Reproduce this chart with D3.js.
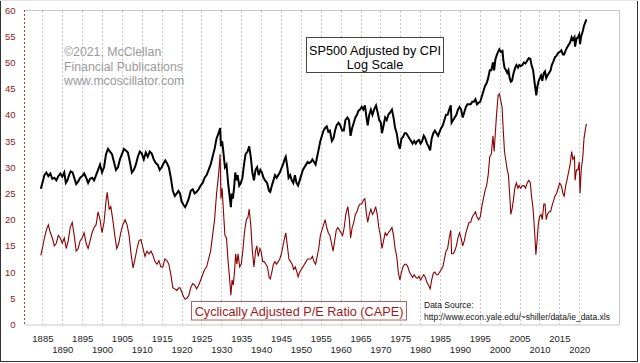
<!DOCTYPE html>
<html>
<head>
<meta charset="utf-8">
<script src="https://cdn.jsdelivr.net/npm/d3@7"></script>
<style>
  body { margin: 0; background: #fff; }
  svg { display: block; font-family: "Liberation Sans", Arial, sans-serif; }
  .grid line { stroke: #c8c8c8; stroke-dasharray: 2,2; }
  .y.axis text { fill: #8b1a1a; font-size: 9.5px; }
  .x.axis text { fill: #222; font-size: 9.5px; }
</style>
</head>
<body>
<svg id="chart" width="640" height="363"></svg>
<script>

// tick labels
var yTicks = [0, 5, 10, 15, 20, 25, 30, 35, 40, 45, 50, 55, 60];
var xTicks = [1885, 1890, 1895, 1900, 1905, 1910, 1915, 1920, 1925, 1930, 1935, 1940, 1945, 1950,
              1955, 1960, 1965, 1970, 1975, 1980, 1985, 1990, 1995, 2000, 2005, 2010, 2015, 2020];

// Shiller CAPE (left axis units)
var cape = [
  [1884.6, 13.2], [1885.0, 14.5], [1885.5, 16.5], [1886.0, 18.0], [1886.5, 19.0], [1887.0, 17.5],
  [1887.5, 16.5], [1888.0, 15.0], [1888.5, 15.5], [1889.0, 17.0], [1889.5, 16.5], [1890.0, 15.5],
  [1890.5, 16.5], [1891.0, 14.5], [1891.5, 16.0], [1892.0, 18.5], [1892.5, 19.5], [1893.0, 17.0],
  [1893.5, 14.0], [1894.0, 14.5], [1894.5, 16.0], [1895.0, 16.5], [1895.5, 17.5], [1896.0, 15.5],
  [1896.5, 14.5], [1897.0, 16.0], [1897.5, 17.5], [1898.0, 18.5], [1898.5, 19.0], [1899.0, 21.5],
  [1899.5, 20.0], [1900.0, 17.5], [1900.5, 19.5], [1901.0, 23.5], [1901.3, 25.2], [1901.8, 22.0],
  [1902.2, 22.5], [1902.7, 20.0], [1903.2, 17.0], [1903.7, 14.5], [1904.2, 15.5], [1904.7, 17.5],
  [1905.2, 19.0], [1905.8, 20.0], [1906.3, 19.0], [1906.8, 17.0], [1907.3, 13.5], [1907.8, 10.8],
  [1908.3, 12.5], [1908.8, 14.5], [1909.3, 16.0], [1909.8, 16.2], [1910.3, 14.5], [1910.8, 13.0],
  [1911.3, 14.0], [1911.8, 13.5], [1912.3, 14.0], [1912.8, 13.2], [1913.3, 12.0], [1913.8, 11.5],
  [1914.3, 12.2], [1914.8, 11.0], [1915.3, 11.0], [1915.8, 12.5], [1916.3, 12.2], [1916.8, 11.5],
  [1917.3, 9.5], [1917.8, 7.0], [1918.3, 6.8], [1918.8, 6.5], [1919.3, 7.0], [1919.6, 7.0],
  [1920.0, 6.3], [1920.5, 5.3], [1920.9, 4.8], [1921.3, 5.0], [1921.8, 5.5], [1922.3, 7.0],
  [1922.8, 7.8], [1923.3, 7.5], [1923.8, 6.8], [1924.3, 7.5], [1924.8, 8.5], [1925.3, 9.5],
  [1925.8, 10.5], [1926.3, 11.0], [1926.8, 12.5], [1927.3, 14.0], [1927.8, 17.0], [1928.3, 20.0],
  [1928.8, 25.0], [1929.3, 28.5], [1929.7, 32.5], [1929.9, 24.0], [1930.2, 26.0], [1930.5, 22.0],
  [1930.9, 17.0], [1931.3, 16.5], [1931.7, 12.0], [1932.0, 9.5], [1932.4, 5.6], [1932.7, 8.5],
  [1933.0, 7.5], [1933.3, 10.0], [1933.6, 13.5], [1933.9, 11.5], [1934.2, 13.5], [1934.6, 11.0],
  [1935.0, 11.5], [1935.4, 14.0], [1935.8, 17.5], [1936.3, 20.0], [1936.7, 20.5], [1937.0, 22.0],
  [1937.4, 19.0], [1937.8, 14.0], [1938.2, 11.0], [1938.6, 14.0], [1938.9, 15.0], [1939.3, 13.0],
  [1939.7, 14.5], [1940.0, 14.0], [1940.4, 12.0], [1940.8, 12.0], [1941.2, 11.5], [1941.6, 11.0],
  [1942.0, 9.0], [1942.3, 8.7], [1942.7, 10.0], [1943.1, 11.5], [1943.5, 12.0], [1943.9, 11.5],
  [1944.3, 12.0], [1944.7, 12.5], [1945.1, 13.5], [1945.5, 15.0], [1945.9, 16.5], [1946.2, 17.5],
  [1946.6, 15.0], [1947.0, 12.5], [1947.4, 12.0], [1947.8, 11.5], [1948.2, 10.5], [1948.6, 11.0],
  [1949.0, 10.0], [1949.3, 9.1], [1949.7, 10.0], [1950.1, 10.5], [1950.5, 11.0], [1950.9, 11.5],
  [1951.3, 12.0], [1951.7, 12.5], [1952.1, 12.5], [1952.5, 12.5], [1952.9, 13.0], [1953.3, 12.0],
  [1953.7, 11.5], [1954.1, 13.0], [1954.5, 14.5], [1954.9, 17.0], [1955.3, 18.0], [1955.7, 19.0],
  [1956.1, 20.0], [1956.5, 18.5], [1956.9, 17.5], [1957.3, 17.0], [1957.7, 15.5], [1958.1, 14.0],
  [1958.5, 16.0], [1958.9, 18.0], [1959.3, 18.5], [1959.7, 18.0], [1960.1, 17.5], [1960.5, 17.0],
  [1960.9, 18.5], [1961.3, 21.0], [1961.8, 22.5], [1962.2, 20.0], [1962.5, 16.5], [1962.9, 18.5],
  [1963.3, 19.5], [1963.7, 21.0], [1964.1, 21.5], [1964.5, 22.5], [1964.9, 23.0], [1965.3, 23.0],
  [1965.7, 23.7], [1966.1, 24.0], [1966.5, 21.0], [1966.8, 19.5], [1967.2, 21.0], [1967.6, 22.0],
  [1968.0, 21.0], [1968.4, 21.5], [1968.8, 22.5], [1969.2, 21.0], [1969.6, 18.5], [1970.0, 17.0],
  [1970.4, 14.5], [1970.8, 16.0], [1971.2, 17.5], [1971.6, 17.0], [1972.0, 17.5], [1972.5, 18.0],
  [1972.9, 18.5], [1973.3, 17.0], [1973.7, 14.5], [1974.1, 13.0], [1974.5, 10.0], [1974.9, 8.5],
  [1975.3, 10.0], [1975.7, 11.0], [1976.1, 11.5], [1976.5, 11.5], [1976.9, 11.0], [1977.3, 10.0],
  [1977.7, 9.5], [1978.1, 9.0], [1978.5, 9.5], [1978.9, 9.0], [1979.3, 8.8], [1979.7, 9.2],
  [1980.1, 8.5], [1980.5, 9.0], [1980.9, 9.5], [1981.3, 9.0], [1981.7, 8.0], [1982.1, 7.5],
  [1982.5, 6.8], [1982.9, 8.5], [1983.3, 9.8], [1983.7, 10.0], [1984.1, 9.5], [1984.5, 9.5],
  [1984.9, 10.0], [1985.3, 10.5], [1985.7, 11.0], [1986.1, 12.5], [1986.5, 14.0], [1986.9, 14.5],
  [1987.3, 16.5], [1987.7, 18.0], [1987.9, 13.5], [1988.3, 13.5], [1988.7, 14.0], [1989.1, 15.0],
  [1989.5, 16.5], [1989.9, 17.5], [1990.3, 16.5], [1990.7, 15.0], [1991.1, 16.0], [1991.5, 17.5],
  [1991.9, 18.5], [1992.3, 19.5], [1992.7, 19.5], [1993.1, 20.5], [1993.5, 21.0], [1993.9, 21.5],
  [1994.3, 20.5], [1994.7, 20.0], [1995.1, 20.5], [1995.5, 22.5], [1995.9, 24.0], [1996.3, 25.5],
  [1996.7, 26.5], [1997.1, 28.5], [1997.5, 32.0], [1997.9, 32.5], [1998.3, 36.0], [1998.6, 33.0],
  [1998.9, 36.5], [1999.2, 40.0], [1999.6, 43.7], [1999.9, 44.0], [2000.2, 43.0], [2000.6, 41.5],
  [2000.9, 37.0], [2001.2, 33.0], [2001.6, 31.0], [2001.9, 29.5], [2002.2, 28.5], [2002.5, 25.0],
  [2002.8, 21.0], [2003.1, 22.0], [2003.4, 23.5], [2003.8, 26.0], [2004.2, 27.0], [2004.6, 26.0],
  [2004.9, 26.5], [2005.3, 26.0], [2005.7, 26.5], [2006.1, 26.5], [2006.5, 26.0], [2006.9, 27.0],
  [2007.3, 27.5], [2007.7, 27.0], [2008.0, 24.5], [2008.4, 22.0], [2008.8, 17.5], [2009.1, 13.3],
  [2009.4, 16.0], [2009.7, 19.0], [2010.0, 20.5], [2010.4, 21.0], [2010.7, 20.0], [2011.1, 23.0],
  [2011.4, 23.0], [2011.7, 20.0], [2012.0, 21.0], [2012.4, 21.5], [2012.8, 21.5], [2013.1, 22.5],
  [2013.5, 23.5], [2013.9, 24.5], [2014.3, 25.0], [2014.7, 26.0], [2015.1, 27.0], [2015.5, 26.5],
  [2015.9, 25.0], [2016.2, 24.5], [2016.6, 26.5], [2016.9, 27.5], [2017.3, 29.0], [2017.7, 30.5],
  [2018.1, 33.0], [2018.4, 31.5], [2018.8, 32.0], [2018.95, 27.5], [2019.3, 29.5], [2019.7, 29.5],
  [2020.0, 31.0], [2020.2, 25.0], [2020.5, 29.5], [2020.9, 32.0], [2021.2, 35.5], [2021.6, 37.5],
  [2021.8, 38.3]
];

// SP500 / CPI, log scale, plotted in left-axis units as it appears
var sp500 = [
  [1884.6, 25.9], [1885.0, 27.0], [1885.5, 28.5], [1886.0, 29.0], [1886.5, 28.3], [1887.0, 28.8],
  [1887.5, 27.8], [1888.0, 28.0], [1888.5, 27.5], [1889.0, 28.3], [1889.5, 28.8], [1890.0, 28.2],
  [1890.5, 29.0], [1890.9, 27.0], [1891.3, 27.5], [1891.7, 28.5], [1892.1, 29.2], [1892.6, 29.0],
  [1893.0, 28.0], [1893.5, 26.8], [1894.0, 27.3], [1894.5, 28.0], [1895.0, 28.3], [1895.5, 28.8],
  [1896.0, 28.0], [1896.5, 27.0], [1897.0, 27.8], [1897.5, 28.0], [1898.0, 27.5], [1898.5, 28.5],
  [1899.0, 29.5], [1899.5, 30.5], [1900.0, 29.0], [1900.5, 30.0], [1901.0, 32.5], [1901.5, 33.5],
  [1902.0, 33.0], [1902.5, 32.5], [1903.0, 31.0], [1903.5, 29.5], [1904.0, 30.0], [1904.5, 31.5],
  [1905.0, 32.5], [1905.5, 33.5], [1906.0, 33.2], [1906.5, 32.8], [1907.0, 31.0], [1907.5, 29.0],
  [1908.0, 29.5], [1908.5, 30.5], [1909.0, 32.0], [1909.5, 33.0], [1910.0, 32.6], [1910.5, 31.5],
  [1911.0, 32.8], [1911.5, 32.0], [1912.0, 33.0], [1912.5, 32.6], [1913.0, 31.5], [1913.5, 30.8],
  [1914.0, 30.5], [1914.5, 29.5], [1915.0, 30.0], [1915.5, 30.8], [1915.9, 31.3], [1916.3, 30.8],
  [1916.8, 30.0], [1917.3, 28.0], [1917.8, 25.5], [1918.3, 24.5], [1918.8, 25.0], [1919.2, 25.5],
  [1919.6, 25.0], [1920.0, 23.5], [1920.5, 22.8], [1920.9, 22.4], [1921.3, 23.0], [1921.8, 24.0],
  [1922.3, 25.5], [1922.8, 25.8], [1923.3, 25.0], [1923.8, 25.3], [1924.3, 25.8], [1924.8, 26.5],
  [1925.3, 27.0], [1925.8, 28.0], [1926.3, 28.5], [1926.8, 29.5], [1927.3, 30.5], [1927.8, 32.0],
  [1928.3, 33.5], [1928.8, 35.5], [1929.3, 36.5], [1929.7, 37.5], [1929.9, 34.0], [1930.2, 35.0],
  [1930.5, 33.0], [1930.9, 30.0], [1931.3, 30.5], [1931.7, 27.0], [1932.0, 25.0], [1932.4, 22.4],
  [1932.6, 25.0], [1932.9, 24.0], [1933.2, 26.0], [1933.5, 29.0], [1933.8, 27.5], [1934.1, 28.5],
  [1934.5, 26.5], [1934.9, 27.0], [1935.3, 28.0], [1935.7, 30.5], [1936.1, 32.5], [1936.6, 33.0],
  [1937.0, 34.0], [1937.4, 32.0], [1937.8, 29.0], [1938.2, 27.5], [1938.6, 29.5], [1939.0, 30.0],
  [1939.4, 28.5], [1939.8, 29.5], [1940.2, 29.0], [1940.6, 28.0], [1941.0, 27.5], [1941.5, 27.0],
  [1942.0, 25.5], [1942.3, 25.3], [1942.7, 26.5], [1943.1, 27.5], [1943.5, 28.5], [1943.9, 28.0],
  [1944.3, 28.5], [1944.7, 29.0], [1945.1, 29.8], [1945.5, 30.5], [1945.9, 31.5], [1946.2, 32.0],
  [1946.6, 30.0], [1946.9, 28.0], [1947.3, 28.5], [1947.7, 27.5], [1948.1, 27.0], [1948.5, 28.5],
  [1948.9, 27.0], [1949.3, 26.5], [1949.7, 27.5], [1950.1, 28.5], [1950.5, 29.5], [1950.9, 30.0],
  [1951.3, 30.5], [1951.7, 31.0], [1952.1, 30.8], [1952.5, 31.0], [1952.9, 31.5], [1953.3, 31.0],
  [1953.7, 30.5], [1954.1, 32.0], [1954.5, 33.5], [1954.9, 35.0], [1955.3, 36.0], [1955.7, 37.0],
  [1956.1, 37.5], [1956.5, 37.8], [1956.9, 36.8], [1957.3, 37.0], [1957.8, 35.0], [1958.2, 35.5],
  [1958.6, 37.0], [1959.0, 38.0], [1959.5, 38.5], [1959.9, 38.0], [1960.4, 37.0], [1960.8, 37.0],
  [1961.2, 39.0], [1961.7, 39.5], [1962.1, 39.0], [1962.5, 36.0], [1962.9, 37.5], [1963.3, 38.5],
  [1963.7, 39.5], [1964.1, 40.0], [1964.5, 40.8], [1964.9, 41.0], [1965.3, 41.5], [1965.7, 41.0],
  [1966.1, 41.8], [1966.5, 39.5], [1966.8, 38.0], [1967.2, 40.0], [1967.6, 41.0], [1968.0, 40.0],
  [1968.4, 41.0], [1968.9, 41.8], [1969.3, 40.5], [1969.7, 39.0], [1970.1, 38.5], [1970.4, 36.5],
  [1970.8, 38.0], [1971.2, 39.5], [1971.6, 39.0], [1972.0, 40.0], [1972.5, 40.5], [1972.9, 41.0],
  [1973.3, 39.5], [1973.7, 37.5], [1974.1, 36.5], [1974.5, 34.5], [1974.9, 33.5], [1975.3, 35.5],
  [1975.7, 35.8], [1976.1, 36.5], [1976.5, 36.5], [1976.9, 36.0], [1977.3, 35.5], [1977.7, 35.0],
  [1978.1, 34.5], [1978.5, 35.0], [1978.9, 34.5], [1979.3, 35.0], [1979.7, 35.2], [1980.1, 34.5],
  [1980.5, 35.0], [1980.9, 36.0], [1981.3, 35.5], [1981.7, 34.5], [1982.1, 34.0], [1982.5, 33.2],
  [1982.9, 35.5], [1983.3, 36.5], [1983.7, 37.0], [1984.1, 36.5], [1984.5, 36.0], [1984.9, 36.8],
  [1985.3, 37.5], [1985.7, 38.0], [1986.1, 39.0], [1986.5, 40.0], [1986.9, 40.0], [1987.3, 41.0],
  [1987.7, 41.8], [1987.9, 38.5], [1988.3, 39.0], [1988.7, 39.5], [1989.1, 40.0], [1989.5, 41.0],
  [1989.9, 41.5], [1990.3, 41.0], [1990.7, 39.5], [1991.1, 40.5], [1991.5, 41.5], [1991.9, 42.0],
  [1992.3, 42.0], [1992.7, 42.0], [1993.1, 42.5], [1993.5, 42.5], [1993.9, 43.0], [1994.3, 42.0],
  [1994.7, 42.3], [1995.1, 42.5], [1995.5, 43.5], [1995.9, 44.5], [1996.3, 45.5], [1996.7, 46.0],
  [1997.1, 47.0], [1997.5, 48.5], [1997.9, 48.5], [1998.3, 50.0], [1998.6, 48.5], [1998.9, 50.5],
  [1999.3, 51.5], [1999.6, 52.0], [1999.9, 52.5], [2000.3, 52.0], [2000.7, 52.2], [2000.9, 50.5],
  [2001.2, 49.0], [2001.6, 48.5], [2001.9, 48.0], [2002.2, 48.5], [2002.5, 47.0], [2002.8, 46.3],
  [2003.1, 46.5], [2003.5, 48.0], [2003.9, 49.0], [2004.2, 49.5], [2004.6, 49.0], [2004.9, 49.5],
  [2005.3, 49.3], [2005.7, 49.5], [2006.1, 50.0], [2006.5, 49.8], [2006.9, 50.3], [2007.3, 50.8],
  [2007.7, 50.7], [2008.0, 49.5], [2008.4, 48.5], [2008.8, 46.0], [2009.2, 43.7], [2009.5, 45.5],
  [2009.8, 46.5], [2010.1, 47.0], [2010.4, 47.5], [2010.7, 46.5], [2011.1, 48.0], [2011.4, 48.3],
  [2011.7, 47.0], [2012.0, 47.5], [2012.4, 48.0], [2012.8, 48.5], [2013.1, 49.5], [2013.5, 50.2],
  [2013.9, 51.0], [2014.3, 51.3], [2014.7, 51.8], [2015.1, 52.0], [2015.5, 52.3], [2015.9, 51.5],
  [2016.2, 51.5], [2016.6, 52.3], [2016.9, 52.8], [2017.3, 53.3], [2017.7, 53.8], [2018.1, 54.8],
  [2018.4, 54.3], [2018.8, 54.8], [2018.95, 53.0], [2019.3, 54.5], [2019.7, 54.8], [2020.0, 55.3],
  [2020.2, 53.5], [2020.5, 55.0], [2020.9, 56.0], [2021.2, 57.0], [2021.6, 57.8], [2021.8, 58.2]
];

var credits = ["\u00a92021, McClellan", "Financial Publications", "www.mcoscillator.com"];
var spTitle = ["SP500 Adjusted by CPI", "Log Scale"];
var capeTitle = "Cyclically Adjusted P/E Ratio (CAPE)";
var sourceText = ["Data Source:", "http://www.econ.yale.edu/~shiller/data/ie_data.xls"];

function drawChart() {

    var svg = d3.select("#chart");

    var plotLeft = 24.5, plotRight = 619, plotTop = 10, plotBottom = 324.5;

    var x = d3.scaleLinear().domain([1880.5, 2030]).range([plotLeft, plotRight]);
    var y = d3.scaleLinear().domain([0, 60]).range([plotBottom, plotTop]);

    // outer frame
    svg.append("line").attr("x1", 0.5).attr("x2", 0.5).attr("y1", 0).attr("y2", 362).style("stroke", "#333");
    svg.append("line").attr("x1", 637.5).attr("x2", 637.5).attr("y1", 0).attr("y2", 362).style("stroke", "#333");
    svg.append("line").attr("x1", 0).attr("x2", 638).attr("y1", 361.5).attr("y2", 361.5).style("stroke", "#333");
    svg.append("line").attr("x1", 0).attr("x2", 638).attr("y1", 0.5).attr("y2", 0.5).style("stroke", "#e4e4e4");

    // plot frame (gray top, right, bottom)
    svg.append("path")
        .attr("d", "M" + plotLeft + "," + (plotTop + 0.5) + "H" + (plotRight + 0.5) + "V" + (plotBottom + 0.5) + "H" + plotLeft)
        .style("fill", "none")
        .style("stroke", "#c8c8c8");

    // vertical dashed gridlines
    svg.append("g").attr("class", "grid")
        .selectAll("line")
        .data(xTicks)
        .enter().append("line")
        .attr("x1", function(d) { return Math.round(x(d)) + 0.5; })
        .attr("x2", function(d) { return Math.round(x(d)) + 0.5; })
        .attr("y1", plotTop + 1)
        .attr("y2", plotBottom);

    // left axis: red dashed line with labels
    svg.append("line")
        .attr("x1", plotLeft).attr("x2", plotLeft)
        .attr("y1", plotTop).attr("y2", plotBottom + 1)
        .style("stroke", "#c0392b")
        .style("stroke-dasharray", "2,2");

    var yAxis = d3.axisLeft(y).tickValues(yTicks).tickSize(0).tickPadding(9);
    var gy = svg.append("g")
        .attr("class", "y axis")
        .attr("transform", "translate(" + plotLeft + ",0)")
        .call(yAxis);
    gy.select(".domain").remove();
    gy.attr("font-family", null).attr("font-size", null);

    // bottom axis, labels staggered on two rows
    var xAxis = d3.axisBottom(x).tickValues(xTicks).tickSize(0).tickFormat(d3.format("d"));
    var gx = svg.append("g")
        .attr("class", "x axis")
        .attr("transform", "translate(0," + plotBottom + ")")
        .call(xAxis);
    gx.select(".domain").remove();
    gx.attr("font-family", null).attr("font-size", null);
    gx.selectAll("text")
        .attr("y", function(d, i) { return i % 2 === 0 ? 11 : 22; })
        .attr("dy", "0.71em");

    // credits
    svg.append("g").selectAll("text")
        .data(credits)
        .enter().append("text")
        .attr("x", 64)
        .attr("y", function(d, i) { return 56 + i * 14.5; })
        .style("font-size", "12.3px")
        .style("fill", "#9a9a9a")
        .text(function(d) { return d; });

    // lines
    var line = d3.line()
        .x(function(d) { return x(d[0]); })
        .y(function(d) { return y(d[1]); });

    svg.append("path")
        .datum(cape)
        .attr("d", line)
        .style("fill", "none")
        .style("stroke", "#8b0000")
        .style("stroke-width", 1.1);

    svg.append("path")
        .datum(sp500)
        .attr("d", line)
        .style("fill", "none")
        .style("stroke", "#000")
        .style("stroke-width", 2);

    // SP500 label box
    svg.append("rect")
        .attr("x", 306.5).attr("y", 37.5)
        .attr("width", 137).attr("height", 35)
        .style("fill", "#fff")
        .style("stroke", "#444");
    svg.append("g").selectAll("text")
        .data(spTitle)
        .enter().append("text")
        .attr("x", 375)
        .attr("y", function(d, i) { return 54.5 + i * 14; })
        .attr("text-anchor", "middle")
        .style("font-size", "12.7px")
        .style("fill", "#000")
        .text(function(d) { return d; });

    // CAPE label box
    svg.append("rect")
        .attr("x", 191.5).attr("y", 301.5)
        .attr("width", 215).attr("height", 18.5)
        .style("fill", "#fff")
        .style("stroke", "#b06060");
    svg.append("text")
        .attr("x", 299)
        .attr("y", 315.5)
        .attr("text-anchor", "middle")
        .style("font-size", "12.7px")
        .style("fill", "#a01818")
        .text(capeTitle);

    // data source note
    svg.append("g").selectAll("text")
        .data(sourceText)
        .enter().append("text")
        .attr("x", 424)
        .attr("y", function(d, i) { return 308 + i * 12; })
        .style("font-size", "8.5px")
        .style("fill", "#111")
        .text(function(d) { return d; });
}

drawChart();

</script>
</body>
</html>
